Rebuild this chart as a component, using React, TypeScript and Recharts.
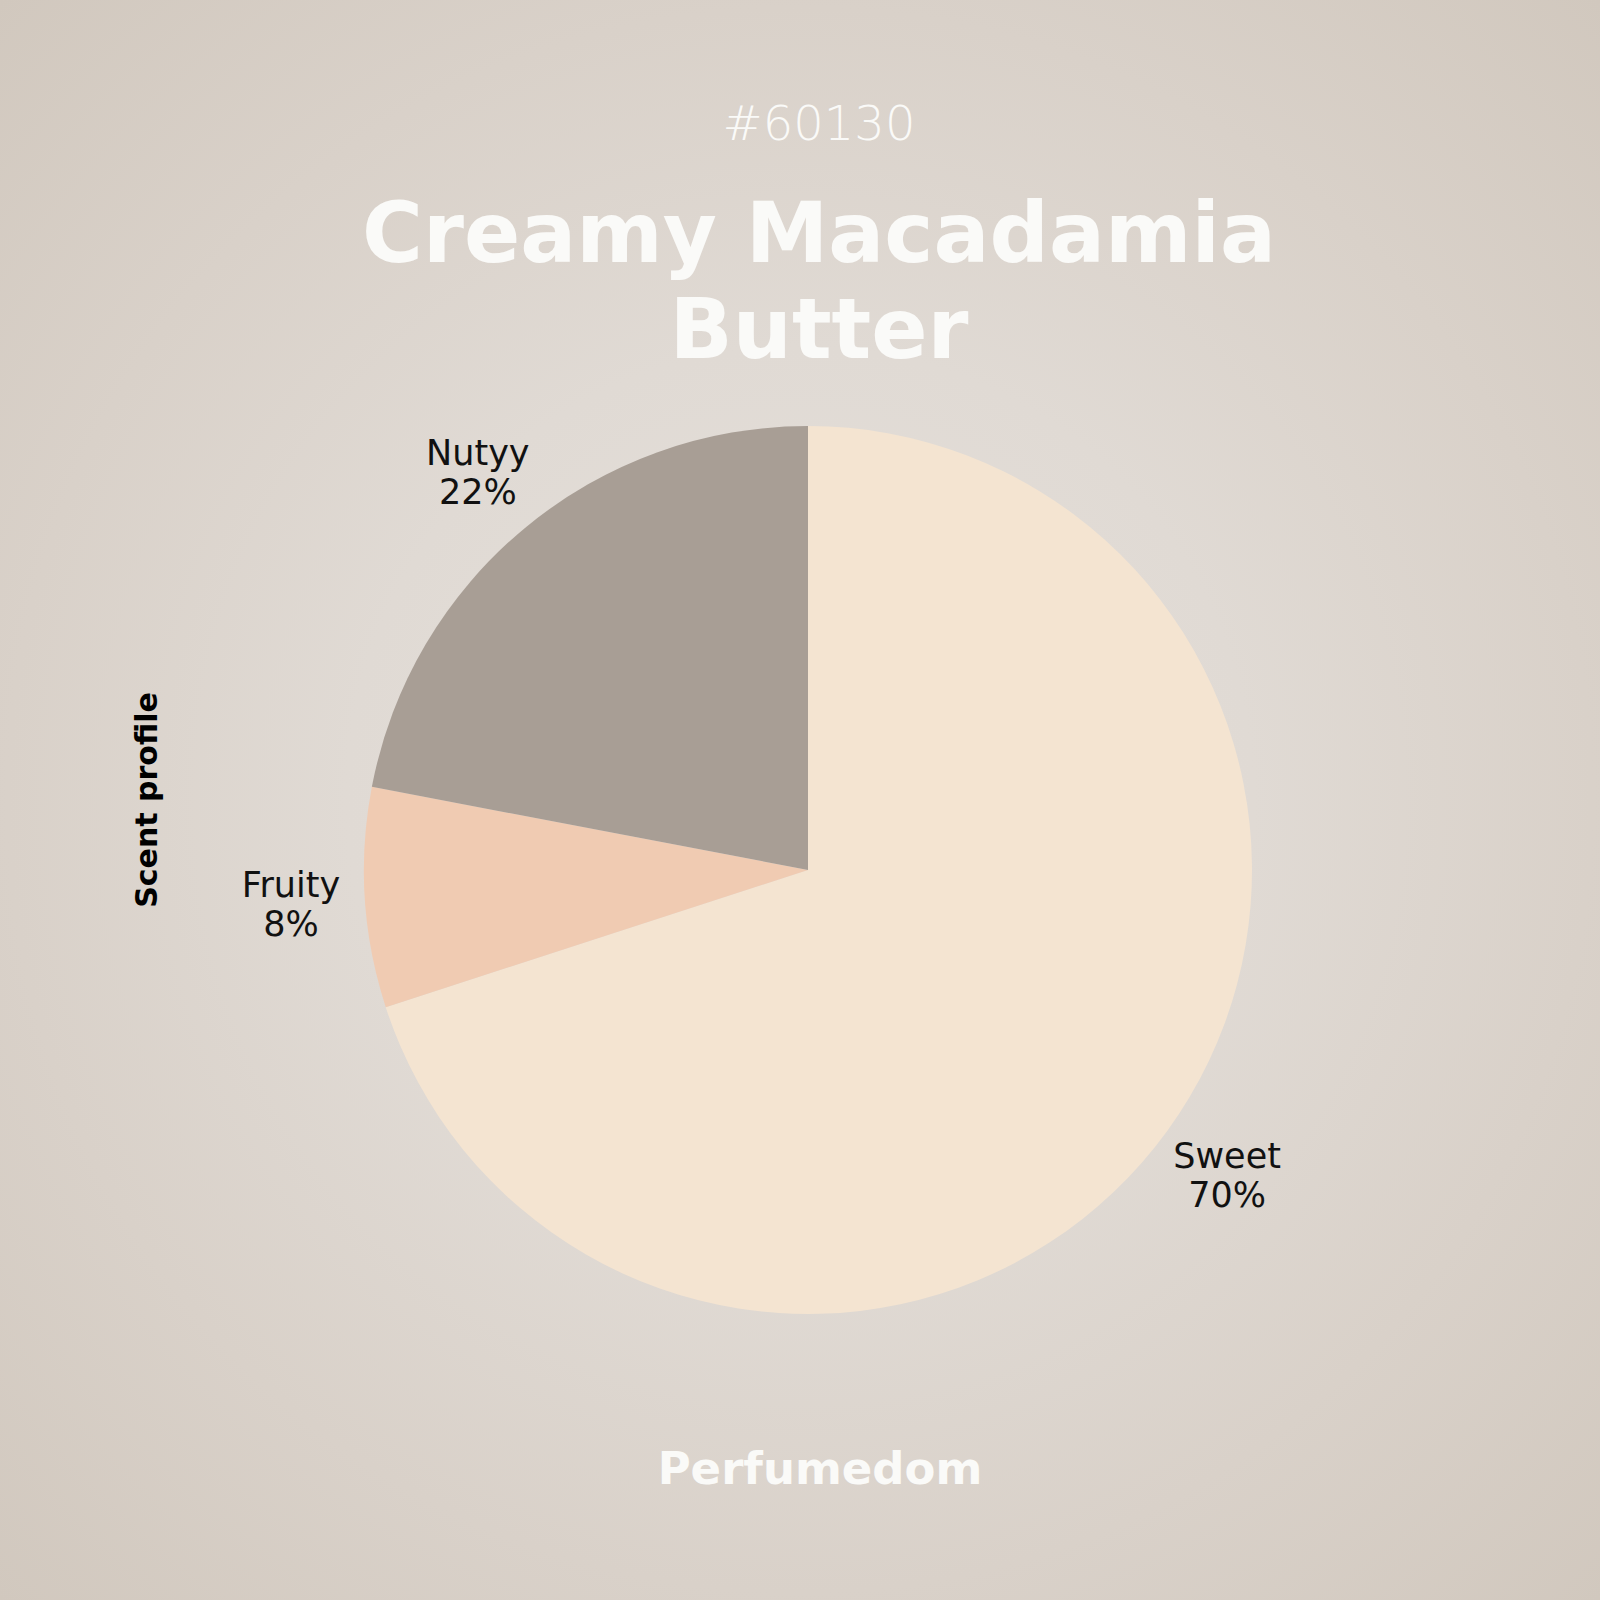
import { PieChart, Pie, Cell } from 'recharts';

// scent profile slices
const notes = ['Sweet', 'Fruity', 'Nutyy'];
const shares = [70, 8, 22];
const colors = ['#F4E4D1', '#F0CBB2', '#A89E95'];

const TITLE_ID = '#60130';
const TITLE_LINES = ['Creamy Macadamia', 'Butter'];
const BRAND = 'Perfumedom';
const SIDE_LABEL = 'Scent profile';

const data = notes.map((name, i) => ({ name, value: shares[i] }));

const FONT = "'DejaVu Sans', sans-serif";
const RADIAN = Math.PI / 180;

const renderLabel = (props: any) => {
    const { cx, cy, midAngle, outerRadius, name, value } = props;
    const r = outerRadius + 74;
    const x = cx + r * Math.cos(-midAngle * RADIAN);
    const y = cy + r * Math.sin(-midAngle * RADIAN);
    return (
        <text x={x} y={y} textAnchor="middle" fill="#111" fontFamily={FONT} fontSize={35}>
            <tspan x={x} dy={-6}>{name}</tspan>
            <tspan x={x} dy={39}>{`${value}%`}</tspan>
        </text>
    );
};

export default function App() {
    return (
        <div
            style={{
                position: 'absolute',
                left: 0,
                top: 0,
                width: 1600,
                height: 1600,
                overflow: 'hidden',
                background: 'radial-gradient(circle at 50% 50%, #E6E1DC 0%, #E0DAD4 40%, #D9D1C9 70%, #D1C8BE 100%)',
            }}
        >
            <PieChart width={1600} height={1600} style={{ position: 'absolute', left: 0, top: 0 }}>
                <Pie
                    data={data}
                    dataKey="value"
                    nameKey="name"
                    cx={803}
                    cy={865}
                    outerRadius={444}
                    startAngle={90}
                    endAngle={-270}
                    stroke="none"
                    label={renderLabel}
                    labelLine={false}
                    isAnimationActive={false}
                >
                    {data.map((d, i) => (
                        <Cell key={d.name} fill={colors[i]} />
                    ))}
                </Pie>
            </PieChart>

            <svg width={1600} height={1600} style={{ position: 'absolute', left: 0, top: 0, pointerEvents: 'none' }}>
                <text x={819} y={140} textAnchor="middle" fill="#FAFAF8" fontFamily={FONT} fontWeight={200} fontSize={48}>
                    {TITLE_ID}
                </text>
                {TITLE_LINES.map((line, i) => (
                    <text
                        key={line}
                        x={819}
                        y={262 + i * 96}
                        textAnchor="middle"
                        fill="#FAFAF8"
                        fontFamily={FONT}
                        fontWeight={700}
                        fontSize={83}
                    >
                        {line}
                    </text>
                ))}
                <text
                    x={157}
                    y={800}
                    textAnchor="middle"
                    transform="rotate(-90 157 800)"
                    fill="#000"
                    fontFamily={FONT}
                    fontWeight={700}
                    fontSize={30}
                >
                    {SIDE_LABEL}
                </text>
                <text x={820} y={1484} textAnchor="middle" fill="#FAFAF8" fontFamily={FONT} fontWeight={700} fontSize={45}>
                    {BRAND}
                </text>
            </svg>
        </div>
    );
}
